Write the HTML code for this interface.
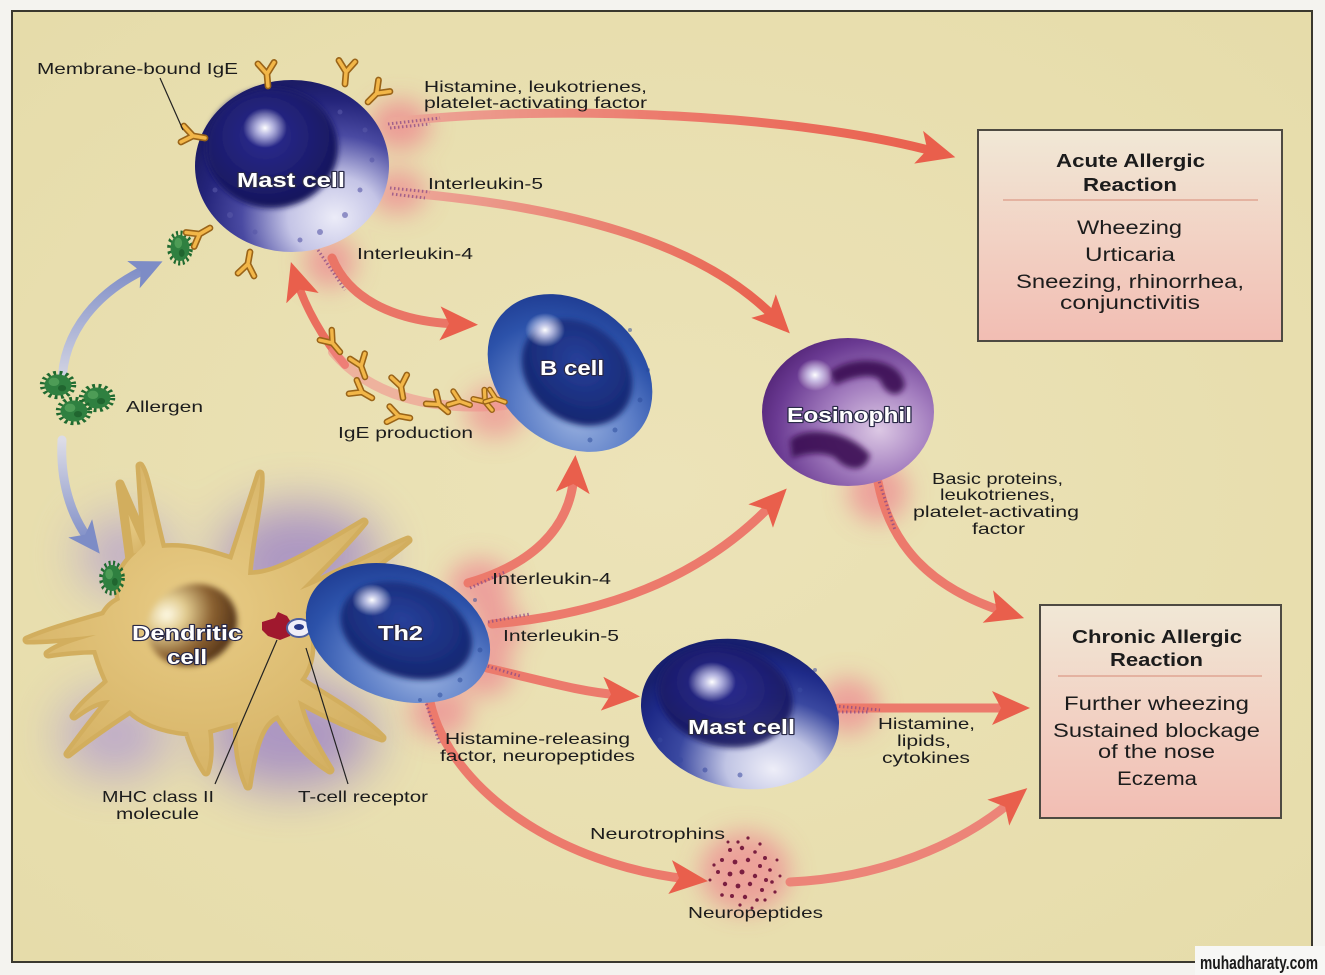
<!DOCTYPE html>
<html><head><meta charset="utf-8">
<style>
html,body{margin:0;padding:0;background:#f4f3ef;}
svg{display:block;}
text{font-family:"Liberation Sans",Arial,sans-serif;}
</style></head>
<body>
<svg width="1325" height="975" viewBox="0 0 1325 975" xmlns="http://www.w3.org/2000/svg">
<defs>
  <filter id="b3" x="-50%" y="-50%" width="200%" height="200%"><feGaussianBlur stdDeviation="3"/></filter>
  <filter id="b6" x="-50%" y="-50%" width="200%" height="200%"><feGaussianBlur stdDeviation="6"/></filter>
  <filter id="b12" x="-80%" y="-80%" width="260%" height="260%"><feGaussianBlur stdDeviation="12"/></filter>
  <filter id="b25" x="-80%" y="-80%" width="260%" height="260%"><feGaussianBlur stdDeviation="25"/></filter>
  <radialGradient id="bg" cx="0.5" cy="0.5" r="0.7"><stop offset="0" stop-color="#ece3b8"/><stop offset="1" stop-color="#e6dcaa"/></radialGradient>
  <linearGradient id="boxG" x1="0" y1="0" x2="0" y2="1"><stop offset="0" stop-color="#f1e8d6"/><stop offset="1" stop-color="#f2bdb3"/></linearGradient>
  <radialGradient id="mastB" cx="0.72" cy="0.8" r="0.8"><stop offset="0" stop-color="#ececf8"/><stop offset="0.3" stop-color="#c4c4e6"/><stop offset="0.6" stop-color="#4a4aa2"/><stop offset="0.85" stop-color="#24247a"/><stop offset="1" stop-color="#1c1c66"/></radialGradient>
  <radialGradient id="mast2B" cx="0.72" cy="0.82" r="0.8"><stop offset="0" stop-color="#eeeef8"/><stop offset="0.3" stop-color="#c0c4e4"/><stop offset="0.6" stop-color="#3a48a0"/><stop offset="0.85" stop-color="#1e2a88"/><stop offset="1" stop-color="#18206e"/></radialGradient>
  <radialGradient id="nucM" cx="0.45" cy="0.4" r="0.6"><stop offset="0" stop-color="#2c2c92"/><stop offset="1" stop-color="#15155a"/></radialGradient>
  <radialGradient id="hl" cx="0.5" cy="0.5" r="0.5"><stop offset="0" stop-color="#ffffff"/><stop offset="0.4" stop-color="#e8e8ff" stop-opacity="0.7"/><stop offset="1" stop-color="#ffffff" stop-opacity="0"/></radialGradient>
  <radialGradient id="bB" cx="0.68" cy="0.72" r="0.8"><stop offset="0" stop-color="#9ab2e0"/><stop offset="0.45" stop-color="#5a7cc6"/><stop offset="0.75" stop-color="#2c52aa"/><stop offset="1" stop-color="#1f3c92"/></radialGradient>
  <radialGradient id="nucB" cx="0.45" cy="0.4" r="0.6"><stop offset="0" stop-color="#27409a"/><stop offset="1" stop-color="#142670"/></radialGradient>
  <radialGradient id="eoB" cx="0.68" cy="0.62" r="0.8"><stop offset="0" stop-color="#dcc8e4"/><stop offset="0.4" stop-color="#a27cbe"/><stop offset="0.75" stop-color="#6a3a92"/><stop offset="1" stop-color="#4a1c6c"/></radialGradient>
  <radialGradient id="dcB" cx="0.45" cy="0.45" r="0.6"><stop offset="0" stop-color="#e8cc86"/><stop offset="1" stop-color="#d4b062"/></radialGradient>
  <radialGradient id="dcN" cx="0.3" cy="0.25" r="0.85"><stop offset="0" stop-color="#fffbe8"/><stop offset="0.25" stop-color="#e2cc90"/><stop offset="0.6" stop-color="#8a6030"/><stop offset="1" stop-color="#4a2c14"/></radialGradient>
  <marker id="rh" markerUnits="userSpaceOnUse" markerWidth="40" markerHeight="36" refX="18" refY="17" orient="auto">
    <path d="M0,0 L38,17 L0,34 L9,17 Z" fill="#e95f4c"/>
  </marker>
  <marker id="bh" markerUnits="userSpaceOnUse" markerWidth="40" markerHeight="36" refX="16" refY="15" orient="auto">
    <path d="M0,0 L32,15 L0,30 L8,15 Z" fill="#7d8cc6"/>
  </marker>
  <g id="y">
    <path d="M0,0 L0,-9 M0,-9 L-6,-17 M0,-9 L6,-17" stroke="#9a6418" stroke-width="5" fill="none" stroke-linecap="round"/>
    <path d="M0,0 L0,-9 M0,-9 L-6,-17 M0,-9 L6,-17" stroke="#f2b648" stroke-width="2.6" fill="none" stroke-linecap="round"/>
  </g>
  <g id="al">
    <circle r="11" fill="none" stroke="#1f6a30" stroke-width="5" stroke-dasharray="2 2.4"/>
    <circle r="10" fill="#2f8040"/>
    <circle cx="-3" cy="-3" r="4" fill="#5aa860" opacity="0.7"/>
    <circle cx="3" cy="3" r="3" fill="#1a5a28" opacity="0.7"/>
  </g>
  <linearGradient id="g1" gradientUnits="userSpaceOnUse" x1="392" y1="0" x2="940" y2="0"><stop offset="0" stop-color="#eca89a"/><stop offset="0.5" stop-color="#ec7a6c"/><stop offset="1" stop-color="#e95f4c"/></linearGradient>
  <linearGradient id="g2" gradientUnits="userSpaceOnUse" x1="395" y1="190" x2="776" y2="320"><stop offset="0" stop-color="#eca89a"/><stop offset="1" stop-color="#e95f4c"/></linearGradient>
  <linearGradient id="gB1" gradientUnits="userSpaceOnUse" x1="0" y1="390" x2="0" y2="265"><stop offset="0" stop-color="#dcdce6"/><stop offset="1" stop-color="#7d8cc6"/></linearGradient>
  <linearGradient id="gB2" gradientUnits="userSpaceOnUse" x1="0" y1="440" x2="0" y2="545"><stop offset="0" stop-color="#dcdce6"/><stop offset="1" stop-color="#7d8cc6"/></linearGradient>
</defs>

<rect x="0" y="0" width="1325" height="975" fill="#f4f3ef"/>
<rect x="12" y="11" width="1300" height="951" fill="url(#bg)" stroke="#3a382e" stroke-width="2"/>

<!-- purple haze -->
<g filter="url(#b25)" opacity="0.9">
  <ellipse cx="300" cy="555" rx="80" ry="50" fill="#a58ec4"/>
  <ellipse cx="290" cy="735" rx="85" ry="55" fill="#a58ec4"/>
  <ellipse cx="125" cy="555" rx="45" ry="38" fill="#b8a4cc"/>
  <ellipse cx="115" cy="735" rx="55" ry="42" fill="#b8a4cc"/>
  <ellipse cx="235" cy="640" rx="65" ry="45" fill="#b29ccc"/>
</g>

<!-- pink glows -->
<g filter="url(#b12)">
  <ellipse cx="400" cy="125" rx="30" ry="25" fill="#ef6f86" opacity="0.6"/>
  <ellipse cx="398" cy="192" rx="28" ry="22" fill="#ef6f86" opacity="0.55"/>
  <ellipse cx="330" cy="262" rx="26" ry="26" fill="#ef6f86" opacity="0.55"/>
  <ellipse cx="495" cy="412" rx="30" ry="26" fill="#ef6f86" opacity="0.5"/>
  <ellipse cx="480" cy="585" rx="32" ry="26" fill="#ef6f86" opacity="0.55"/>
  <ellipse cx="498" cy="628" rx="26" ry="26" fill="#ef6f86" opacity="0.55"/>
  <ellipse cx="485" cy="672" rx="28" ry="24" fill="#ef6f86" opacity="0.55"/>
  <ellipse cx="440" cy="712" rx="30" ry="26" fill="#ef6f86" opacity="0.55"/>
  <ellipse cx="878" cy="492" rx="30" ry="30" fill="#ef6f86" opacity="0.55"/>
  <ellipse cx="848" cy="706" rx="30" ry="28" fill="#ef6f86" opacity="0.55"/>
  <ellipse cx="745" cy="872" rx="45" ry="40" fill="#ef6f86" opacity="0.55"/>
</g>

<!-- red arrows -->
<g fill="none" stroke-linecap="round">
  <path d="M392,122 C560,103 800,115 936,152" stroke="url(#g1)" stroke-width="9" marker-end="url(#rh)"/>
  <path d="M395,192 C560,205 700,240 776,319" stroke="url(#g2)" stroke-width="9" marker-end="url(#rh)"/>
  <path d="M332,258 C350,302 400,322 458,324" stroke="#ea7566" stroke-width="9" marker-end="url(#rh)"/>
  <path d="M345,365 C322,338 305,306 297,281" stroke="#ea6e5e" stroke-width="8" marker-end="url(#rh)"/>
  <path d="M333,352 C370,395 430,412 505,405" stroke="#f08c8a" stroke-width="10" opacity="0.55"/>
  <path d="M468,583 C530,565 570,530 574,475" stroke="#ec7a6c" stroke-width="9" marker-end="url(#rh)"/>
  <path d="M492,624 C600,615 700,580 773,503" stroke="#ec7a6c" stroke-width="9" marker-end="url(#rh)"/>
  <path d="M487,668 C540,680 580,692 620,695" stroke="#ec7a6c" stroke-width="9" marker-end="url(#rh)"/>
  <path d="M430,702 C450,790 560,865 688,879" stroke="#ec7a6c" stroke-width="9" marker-end="url(#rh)"/>
  <path d="M878,482 C890,545 930,588 1005,612" stroke="#ec7a6c" stroke-width="9" marker-end="url(#rh)"/>
  <path d="M838,708 L1010,708" stroke="#ec7a6c" stroke-width="9" marker-end="url(#rh)"/>
  <path d="M790,882 C880,878 960,845 1012,801" stroke="#ec8478" stroke-width="9" marker-end="url(#rh)"/>
  <path d="M62,385 C62,330 100,290 148,268" stroke="url(#gB1)" stroke-width="9" marker-end="url(#bh)"/>
  <path d="M62,440 C60,480 70,515 90,541" stroke="url(#gB2)" stroke-width="9" marker-end="url(#bh)"/>
</g>

<!-- speckle streaks -->
<g fill="none" stroke="#8a4a86" stroke-width="3" stroke-dasharray="1.5 2.5" opacity="0.75">
  <path d="M388,124 L440,118"/><path d="M390,128 L430,124"/>
  <path d="M390,188 L430,192"/><path d="M392,194 L425,198"/>
  <path d="M318,250 L345,290"/>
  <path d="M470,588 L505,572"/><path d="M488,622 L530,614"/>
  <path d="M480,664 L520,676"/><path d="M425,700 L440,745"/>
  <path d="M878,478 L895,530"/><path d="M835,706 L880,710"/><path d="M838,712 L870,712"/>
</g>

<!-- dendritic cell -->
<g fill="url(#dcB)" stroke="#d2ae5e" stroke-width="9" stroke-linejoin="round">
  <path d="M120,600 C110,560 150,550 145,540 L140,466 C146,474 150,500 162,548 C190,545 215,555 232,560 L260,474 C262,494 250,540 248,575 C275,575 300,560 364,522 C348,542 320,570 300,590 C330,578 378,552 408,540 C378,566 330,595 305,612 C315,640 312,665 300,680 C330,700 360,715 382,738 C352,728 320,712 298,700 C305,730 318,750 330,770 C310,758 290,735 278,715 C265,720 255,735 248,786 C240,768 236,745 238,722 C225,725 215,728 208,730 C210,745 210,760 206,772 C198,760 192,745 188,732 C160,730 140,720 130,710 C115,720 92,735 68,754 C82,735 95,718 110,700 C95,700 80,712 74,716 C85,700 100,690 108,682 C100,665 98,655 96,650 C80,650 60,652 48,654 C60,645 80,640 96,635 C70,638 45,640 27,640 C50,630 80,622 104,615 C108,608 112,604 120,600 Z"/>
  <path d="M130,560 L120,484 C128,502 140,530 150,552 Z"/>
</g>
<g fill="url(#dcB)">
  <path d="M120,600 C110,560 150,550 145,540 L140,466 C146,474 150,500 162,548 C190,545 215,555 232,560 L260,474 C262,494 250,540 248,575 C275,575 300,560 364,522 C348,542 320,570 300,590 C330,578 378,552 408,540 C378,566 330,595 305,612 C315,640 312,665 300,680 C330,700 360,715 382,738 C352,728 320,712 298,700 C305,730 318,750 330,770 C310,758 290,735 278,715 C265,720 255,735 248,786 C240,768 236,745 238,722 C225,725 215,728 208,730 C210,745 210,760 206,772 C198,760 192,745 188,732 C160,730 140,720 130,710 C115,720 92,735 68,754 C82,735 95,718 110,700 C95,700 80,712 74,716 C85,700 100,690 108,682 C100,665 98,655 96,650 C80,650 60,652 48,654 C60,645 80,640 96,635 C70,638 45,640 27,640 C50,630 80,622 104,615 C108,608 112,604 120,600 Z"/>
</g>
<ellipse cx="192" cy="625" rx="46" ry="40" fill="url(#dcN)" transform="rotate(-25 192 625)" filter="url(#b3)"/>

<!-- MHC / TCR -->
<path d="M262,622 L275,618 L278,612 L287,616 L292,624 L290,636 L280,640 L268,636 L262,630 Z" fill="#a0182e"/>
<ellipse cx="299" cy="628" rx="12" ry="9" fill="#f0eef8" stroke="#5060a0" stroke-width="2"/>
<ellipse cx="299" cy="627" rx="5" ry="3" fill="#2a3a8a"/>
<path d="M308,622 L322,620 L332,626 L330,638 L318,640 L310,636 Z" fill="#2aa0a0"/>

<!-- allergens -->
<use href="#al" transform="translate(180,248) scale(0.95,1.3) rotate(20)"/>
<use href="#al" transform="translate(58,385) scale(1.35,1.05)"/>
<use href="#al" transform="translate(97,398) scale(1.35,1.05)"/>
<use href="#al" transform="translate(74,411) scale(1.35,1.05)"/>
<use href="#al" transform="translate(112,578) scale(0.95,1.3)"/>

<!-- Mast cell (top) -->
<g>
  <ellipse cx="292" cy="166" rx="97" ry="86" fill="url(#mastB)"/>
  <ellipse cx="272" cy="148" rx="66" ry="60" fill="url(#nucM)" filter="url(#b3)"/>
  <ellipse cx="265" cy="128" rx="22" ry="20" fill="url(#hl)"/>
  <g fill="#5858a8" opacity="0.6">
    <circle cx="345" cy="215" r="3"/><circle cx="360" cy="190" r="2.5"/><circle cx="320" cy="232" r="3"/><circle cx="230" cy="215" r="3"/><circle cx="215" cy="190" r="2.5"/><circle cx="372" cy="160" r="2.5"/><circle cx="300" cy="240" r="2.5"/><circle cx="255" cy="232" r="2.5"/><circle cx="365" cy="130" r="2.5"/><circle cx="340" cy="112" r="2.5"/>
  </g>
</g>
<use href="#y" transform="translate(268,86) scale(1.35) rotate(-5)"/>
<use href="#y" transform="translate(345,84) scale(1.35) rotate(5)"/>
<use href="#y" transform="translate(368,102) scale(1.35) rotate(45)"/>
<use href="#y" transform="translate(205,138) scale(1.35) rotate(-80)"/>
<use href="#y" transform="translate(210,228) scale(1.35) rotate(-120)"/>
<use href="#y" transform="translate(250,252) scale(1.35) rotate(190)"/>

<!-- B cell -->
<g transform="rotate(40 570 373)">
  <ellipse cx="570" cy="373" rx="90" ry="70" fill="url(#bB)"/>
  <ellipse cx="575" cy="368" rx="60" ry="48" fill="url(#nucB)" filter="url(#b3)"/>
</g>
<ellipse cx="545" cy="330" rx="20" ry="17" fill="url(#hl)"/>
<g fill="#2a4a9a" opacity="0.5"><circle cx="615" cy="430" r="2.5"/><circle cx="640" cy="400" r="2.5"/><circle cx="590" cy="440" r="2.5"/><circle cx="648" cy="370" r="2"/><circle cx="630" cy="330" r="2"/></g>

<!-- IgE chain -->
<use href="#y" transform="translate(340,352) scale(1.3) rotate(-40)"/>
<use href="#y" transform="translate(365,377) scale(1.3) rotate(-20)"/>
<use href="#y" transform="translate(372,398) scale(1.3) rotate(-60)"/>
<use href="#y" transform="translate(403,398) scale(1.3) rotate(-10)"/>
<use href="#y" transform="translate(410,418) scale(1.3) rotate(-80)"/>
<use href="#y" transform="translate(448,412) scale(1.3) rotate(-50)"/>
<use href="#y" transform="translate(470,405) scale(1.2) rotate(-70)"/>
<use href="#y" transform="translate(492,410) scale(1.2) rotate(-40)"/>
<use href="#y" transform="translate(505,402) scale(1.1) rotate(-70)"/>

<!-- Eosinophil -->
<g>
  <ellipse cx="848" cy="412" rx="86" ry="74" fill="url(#eoB)"/>
  <g filter="url(#b3)" fill="#3a1052" opacity="0.9">
    <path d="M830,372 C850,355 900,355 905,385 C900,400 885,395 880,380 C870,372 850,378 835,385 Z"/>
    <path d="M790,440 C805,425 850,430 870,455 C865,475 845,470 835,458 C820,450 800,455 792,458 Z"/>
  </g>
  <ellipse cx="815" cy="375" rx="18" ry="16" fill="url(#hl)"/>
</g>

<!-- Th2 -->
<g transform="rotate(20 398 633)">
  <ellipse cx="398" cy="633" rx="95" ry="66" fill="url(#bB)"/>
  <ellipse cx="405" cy="628" rx="68" ry="46" fill="url(#nucB)" filter="url(#b3)"/>
</g>
<ellipse cx="372" cy="600" rx="20" ry="16" fill="url(#hl)"/>
<g fill="#2a4a9a" opacity="0.5"><circle cx="460" cy="680" r="2.5"/><circle cx="440" cy="695" r="2.5"/><circle cx="480" cy="650" r="2.5"/><circle cx="475" cy="600" r="2"/><circle cx="420" cy="700" r="2"/></g>

<!-- Mast cell (bottom) -->
<g transform="rotate(12 740 714)">
  <ellipse cx="740" cy="714" rx="100" ry="74" fill="url(#mast2B)"/>
  <ellipse cx="722" cy="700" rx="68" ry="50" fill="url(#nucM)" filter="url(#b3)" opacity="0.9"/>
</g>
<ellipse cx="712" cy="682" rx="24" ry="20" fill="url(#hl)"/>
<g fill="#3a4aa0" opacity="0.55"><circle cx="680" cy="760" r="3"/><circle cx="705" cy="770" r="2.5"/><circle cx="660" cy="740" r="2.5"/><circle cx="800" cy="690" r="2.5"/><circle cx="815" cy="670" r="2"/><circle cx="740" cy="775" r="2.5"/></g>

<!-- neuropeptide cluster -->
<g fill="#7a1e40">
  <circle cx="730" cy="850" r="2"/><circle cx="742" cy="848" r="2.2"/><circle cx="755" cy="852" r="1.8"/><circle cx="765" cy="858" r="2"/><circle cx="722" cy="860" r="2"/><circle cx="735" cy="862" r="2.4"/><circle cx="748" cy="860" r="2.2"/><circle cx="760" cy="866" r="2"/><circle cx="770" cy="870" r="1.8"/><circle cx="718" cy="872" r="2"/><circle cx="730" cy="874" r="2.4"/><circle cx="742" cy="872" r="2.5"/><circle cx="755" cy="876" r="2.2"/><circle cx="766" cy="880" r="2"/><circle cx="725" cy="884" r="2.2"/><circle cx="738" cy="886" r="2.4"/><circle cx="750" cy="884" r="2.2"/><circle cx="762" cy="890" r="2"/><circle cx="732" cy="896" r="2"/><circle cx="745" cy="897" r="2.2"/><circle cx="757" cy="900" r="1.8"/><circle cx="722" cy="895" r="1.8"/><circle cx="772" cy="882" r="1.8"/><circle cx="714" cy="865" r="1.6"/><circle cx="748" cy="838" r="1.6"/><circle cx="738" cy="842" r="1.6"/><circle cx="760" cy="844" r="1.6"/><circle cx="728" cy="842" r="1.5"/><circle cx="777" cy="860" r="1.5"/><circle cx="710" cy="880" r="1.5"/><circle cx="740" cy="905" r="1.6"/><circle cx="752" cy="908" r="1.5"/><circle cx="765" cy="900" r="1.6"/><circle cx="780" cy="876" r="1.5"/><circle cx="775" cy="892" r="1.6"/>
</g>

<!-- leader lines -->
<g stroke="#222" stroke-width="1.2" fill="none">
  <path d="M160,78 L183,130"/>
  <path d="M277,640 L215,784"/>
  <path d="M306,648 L348,784"/>
</g>

<!-- boxes -->
<rect x="978" y="130" width="304" height="211" fill="url(#boxG)" stroke="#4e4a42" stroke-width="2"/>
<line x1="1003" y1="200" x2="1258" y2="200" stroke="#dc9a88" stroke-width="1.2"/>
<rect x="1040" y="605" width="241" height="213" fill="url(#boxG)" stroke="#4e4a42" stroke-width="2"/>
<line x1="1058" y1="676" x2="1262" y2="676" stroke="#dc9a88" stroke-width="1.2"/>

<!-- labels -->
<g fill="#1c1c1c" font-size="16">
  <text x="37" y="74" textLength="201" lengthAdjust="spacingAndGlyphs">Membrane-bound IgE</text>
  <text x="424" y="92" textLength="223" lengthAdjust="spacingAndGlyphs">Histamine, leukotrienes,</text>
  <text x="424" y="108" textLength="223" lengthAdjust="spacingAndGlyphs">platelet-activating factor</text>
  <text x="428" y="189" textLength="115" lengthAdjust="spacingAndGlyphs">Interleukin-5</text>
  <text x="357" y="259" textLength="116" lengthAdjust="spacingAndGlyphs">Interleukin-4</text>
  <text x="126" y="412" textLength="77" lengthAdjust="spacingAndGlyphs">Allergen</text>
  <text x="338" y="438" textLength="135" lengthAdjust="spacingAndGlyphs">IgE production</text>
  <text x="932" y="484" textLength="131" lengthAdjust="spacingAndGlyphs">Basic proteins,</text>
  <text x="940" y="500" textLength="115" lengthAdjust="spacingAndGlyphs">leukotrienes,</text>
  <text x="913" y="517" textLength="166" lengthAdjust="spacingAndGlyphs">platelet-activating</text>
  <text x="972" y="534" textLength="53" lengthAdjust="spacingAndGlyphs">factor</text>
  <text x="492" y="584" textLength="119" lengthAdjust="spacingAndGlyphs">Interleukin-4</text>
  <text x="503" y="641" textLength="116" lengthAdjust="spacingAndGlyphs">Interleukin-5</text>
  <text x="445" y="744" textLength="185" lengthAdjust="spacingAndGlyphs">Histamine-releasing</text>
  <text x="440" y="761" textLength="195" lengthAdjust="spacingAndGlyphs">factor, neuropeptides</text>
  <text x="878" y="729" textLength="97" lengthAdjust="spacingAndGlyphs">Histamine,</text>
  <text x="897" y="746" textLength="54" lengthAdjust="spacingAndGlyphs">lipids,</text>
  <text x="882" y="763" textLength="88" lengthAdjust="spacingAndGlyphs">cytokines</text>
  <text x="102" y="802" textLength="112" lengthAdjust="spacingAndGlyphs">MHC class II</text>
  <text x="116" y="819" textLength="83" lengthAdjust="spacingAndGlyphs">molecule</text>
  <text x="298" y="802" textLength="130" lengthAdjust="spacingAndGlyphs">T-cell receptor</text>
  <text x="590" y="839" textLength="135" lengthAdjust="spacingAndGlyphs">Neurotrophins</text>
  <text x="688" y="918" textLength="135" lengthAdjust="spacingAndGlyphs">Neuropeptides</text>
</g>

<!-- box text -->
<g fill="#1c1c1c">
  <text x="1056" y="167" font-size="18" font-weight="bold" textLength="149" lengthAdjust="spacingAndGlyphs">Acute Allergic</text>
  <text x="1083" y="191" font-size="18" font-weight="bold" textLength="94" lengthAdjust="spacingAndGlyphs">Reaction</text>
  <text x="1077" y="234" font-size="19" textLength="105" lengthAdjust="spacingAndGlyphs">Wheezing</text>
  <text x="1085" y="261" font-size="19" textLength="90" lengthAdjust="spacingAndGlyphs">Urticaria</text>
  <text x="1016" y="288" font-size="19" textLength="228" lengthAdjust="spacingAndGlyphs">Sneezing, rhinorrhea,</text>
  <text x="1060" y="309" font-size="19" textLength="140" lengthAdjust="spacingAndGlyphs">conjunctivitis</text>

  <text x="1072" y="643" font-size="18" font-weight="bold" textLength="170" lengthAdjust="spacingAndGlyphs">Chronic Allergic</text>
  <text x="1110" y="666" font-size="18" font-weight="bold" textLength="93" lengthAdjust="spacingAndGlyphs">Reaction</text>
  <text x="1064" y="710" font-size="19" textLength="185" lengthAdjust="spacingAndGlyphs">Further wheezing</text>
  <text x="1053" y="737" font-size="19" textLength="207" lengthAdjust="spacingAndGlyphs">Sustained blockage</text>
  <text x="1098" y="758" font-size="19" textLength="117" lengthAdjust="spacingAndGlyphs">of the nose</text>
  <text x="1117" y="785" font-size="19" textLength="80" lengthAdjust="spacingAndGlyphs">Eczema</text>
</g>

<!-- cell labels -->
<g fill="#ffffff" font-weight="bold" font-size="20" stroke="#2a2a48" stroke-width="2.2" paint-order="stroke" stroke-linejoin="round">
  <text x="237" y="187" textLength="108" lengthAdjust="spacingAndGlyphs">Mast cell</text>
  <text x="540" y="375" textLength="64" lengthAdjust="spacingAndGlyphs">B cell</text>
  <text x="787" y="422" textLength="125" lengthAdjust="spacingAndGlyphs">Eosinophil</text>
  <text x="132" y="640" textLength="110" lengthAdjust="spacingAndGlyphs">Dendritic</text>
  <text x="167" y="664" textLength="40" lengthAdjust="spacingAndGlyphs">cell</text>
  <text x="378" y="640" textLength="45" lengthAdjust="spacingAndGlyphs">Th2</text>
  <text x="688" y="734" textLength="107" lengthAdjust="spacingAndGlyphs">Mast cell</text>
</g>

<!-- watermark -->
<rect x="1195" y="946" width="130" height="29" fill="#f7f7f5"/>
<text x="1200" y="969" font-size="18" font-weight="bold" fill="#1a1a1a" textLength="118" lengthAdjust="spacingAndGlyphs">muhadharaty.com</text>
</svg>
</body></html>
